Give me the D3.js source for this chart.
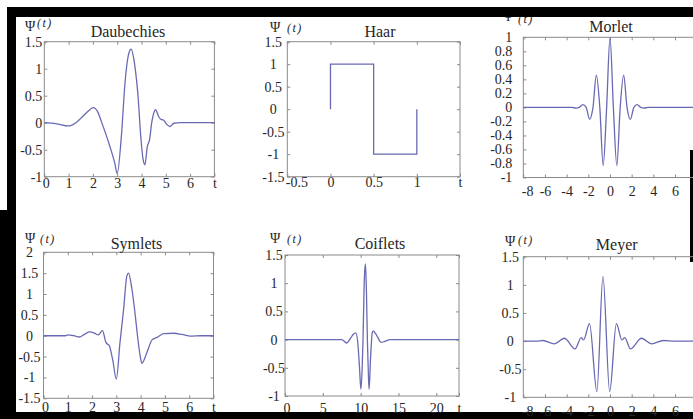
<!DOCTYPE html>
<html><head><meta charset="utf-8">
<script src="https://cdn.jsdelivr.net/npm/d3@7"></script>
<style>body{margin:0;background:#fff} svg{display:block}</style>
</head><body>
<svg id="c" width="693" height="419"></svg>
<script>
// ---------- data ----------
const titles = ["Daubechies","Haar","Morlet","Symlets","Coiflets","Meyer"];

const daubT   = [0,0.5,1.0,1.3,1.5,1.75,2.02,2.2,2.35,2.7,2.9,3.0,3.18,3.32,3.46,3.57,3.73,3.87,3.96,4.07,4.14,4.24,4.33,4.42,4.52,4.58,4.7,4.8,4.9,5.04,5.17,5.33,5.6,6.0,7.0];
const daubPsi = [0,-0.02,-0.06,0.0,0.08,0.19,0.28,0.2,0.02,-0.44,-0.75,-0.94,-0.2,0.73,1.25,1.36,1.04,0.42,-0.2,-0.69,-0.78,-0.44,-0.32,0.0,0.2,0.24,0.12,0.06,0.05,-0.03,-0.07,-0.01,0,0,0];

const haarT   = [0,0,0.5,0.5,1,1];
const haarPsi = [0,1,1,-1,-1,0];

const morlT   = [-8,-4,-3.5,-3.14,-2.83,-2.51,-2.2,-1.88,-1.57,-1.26,-0.94,-0.63,-0.31,0,0.31,0.63,0.94,1.26,1.57,1.88,2.2,2.51,2.83,3.14,3.5,4,8];
const morlPsi = [0,0,0,-0.01,0,0.04,0,-0.17,0,0.46,0,-0.83,0,1,0,-0.83,0,0.46,0,-0.17,0,0.04,0,-0.01,0,0,0];

const symT    = [0,0.9,1.0,1.25,1.49,1.7,1.9,2.1,2.25,2.43,2.57,2.71,2.85,3.0,3.15,3.3,3.43,3.5,3.64,3.78,3.87,3.98,4.05,4.26,4.47,4.68,4.95,5.37,5.7,6.06,6.47,7];
const symPsi  = [0,0,0.02,0.0,-0.03,0.04,0.09,0.06,0.02,0.12,-0.16,-0.24,-0.58,-1.04,-0.16,0.64,1.43,1.5,1.12,0.48,0,-0.48,-0.66,-0.4,-0.1,-0.04,0.05,0.06,0.03,-0.01,0,0];

const coifT   = [0,6.8,7.5,8.14,8.7,9.0,9.37,9.65,9.85,10.03,10.2,10.3,10.5,10.64,10.77,10.9,11.03,11.12,11.3,11.55,11.7,12.0,12.3,12.7,13.2,13.9,23];
const coifPsi = [0,0,0,-0.06,0.03,0.09,0.12,-0.1,-0.5,-0.88,-0.5,-0.06,1.12,1.34,0.82,-0.06,-0.65,-0.88,-0.35,0.13,0.15,0.1,0.03,-0.05,-0.03,0,0];

const meyT    = [-8,-6.8,-6.2,-5.14,-4.2,-3.22,-2.66,-2.44,-1.89,-1.21,-0.65,-0.03,0.59,1.1,1.36,1.89,2.9,3.84,4.92,6,8];
const meyPsi  = [0,0,0.01,-0.05,0.05,-0.14,0.06,0.02,0.31,-0.9,1.15,-0.9,0.31,0.02,0.06,-0.14,0.05,-0.05,0.01,0,0];

// tick values and labels
const daubXTicks = [0,1,2,3,4,5,6,7];        const daubXLabels = ["0","1","2","3","4","5","6","t"];
const daubYTicks = [-1,-0.5,0,0.5,1,1.5];    const daubYLabels = ["-1","-0.5","0","0.5","1","1.5"];
const haarXTicks = [-0.5,0,0.5,1,1.5];       const haarXLabels = ["-0.5","0","0.5","1","t"];
const haarYTicks = [-1.5,-1,-0.5,0,0.5,1,1.5]; const haarYLabels = ["-1.5","-1","-0.5","0","0.5","1","1.5"];
const morlXTicks = [-8,-6,-4,-2,0,2,4,6,8];  const morlXLabels = ["-8","-6","-4","-2","0","2","4","6","t"];
const morlYTicks = [-1,-0.8,-0.6,-0.4,-0.2,0,0.2,0.4,0.6,0.8,1];
const morlYLabels = ["-1","-0.8","-0.6","-0.4","-0.2","0","0.2","0.4","0.6","0.8","1"];
const symXTicks  = [0,1,2,3,4,5,6,7];        const symXLabels  = ["0","1","2","3","4","5","6","t"];
const symYTicks  = [-1.5,-1,-0.5,0,0.5,1,1.5,2]; const symYLabels = ["-1.5","-1","-0.5","0","0.5","1","1.5","2"];
const coifXTicks = [0,5,10,15,20,23];        const coifXLabels = ["0","5","10","15","20","t"];
const coifYTicks = [-1,-0.5,0,0.5,1,1.5];    const coifYLabels = ["-1","-0.5","0","0.5","1","1.5"];
const meyXTicks  = [-8,-6,-4,-2,0,2,4,6,8];  const meyXLabels  = ["-8","-6","-4","-2","0","2","4","6","t"];
const meyYTicks  = [-1,-0.5,0,0.5,1,1.5];    const meyYLabels  = ["-1","-0.5","0","0.5","1","1.5"];

// ---------- layout ----------
const W = 693, H = 419;
const svg = d3.select("#c");
const FONT = "'Liberation Serif','Times New Roman',serif";
const LINE = "#6a6ab4", FRAME = "#8a8a8a", TXT = "#262626";

const panels = [
  {t:daubT, v:daubPsi, xt:daubXTicks, xl:daubXLabels, yt:daubYTicks, yl:daubYLabels, step:false,
   box:[44.3,214.4,41.7,176.7], xpad:1.5, yanchor:"end", ypad:2, title:[128,37], psi:[25,30.5], pt:[37,27]},
  {t:haarT, v:haarPsi, xt:haarXTicks, xl:haarXLabels, yt:haarYTicks, yl:haarYLabels, step:true,
   box:[287.3,460,41.7,176.7], xpad:0, yanchor:"middle", ypad:14, title:[380,37], psi:[270,31.5], pt:[287,32]},
  {t:morlT, v:morlPsi, xt:morlXTicks, xl:morlXLabels, yt:morlYTicks, yl:morlYLabels, step:false,
   box:[523.3,696.7,37.3,177.5], xpad:9, yanchor:"end", ypad:11, title:[611,32], psi:[503,21], pt:[518,23]},
  {t:symT, v:symPsi, xt:symXTicks, xl:symXLabels, yt:symYTicks, yl:symYLabels, step:false,
   box:[43.5,213.5,252.3,398.3], xpad:4, yanchor:"middle", ypad:14, title:[136.5,248.5], psi:[25,243], pt:[40,243]},
  {t:coifT, v:coifPsi, xt:coifXTicks, xl:coifXLabels, yt:coifYTicks, yl:coifYLabels, step:false,
   box:[285,459,255,396], xpad:7, yanchor:"middle", ypad:11, title:[380,248.5], psi:[270,243], pt:[287,243]},
  {t:meyT, v:meyPsi, xt:meyXTicks, xl:meyXLabels, yt:meyYTicks, yl:meyYLabels, step:false,
   box:[523.3,696.7,256.7,397.3], xpad:9, yanchor:"middle", ypad:13, title:[616.7,250], psi:[505,246], pt:[518,244]}
];

// black photo border strips (drawn first, texts may sit over them)
const border = [[7,7,W-7,10],[7,7,9,203],[0,210,16,H-210],[0,412,W,H-412],[690,150,3,112]];
svg.selectAll("rect.border").data(border).enter().append("rect").attr("class","border")
  .attr("x", d => d[0]).attr("y", d => d[1]).attr("width", d => d[2]).attr("height", d => d[3])
  .attr("fill", "#000");

panels.forEach((p, i) => {
  const [x0, x1, y0, y1] = p.box;
  const x = d3.scaleLinear().domain(d3.extent(p.xt)).range([x0, x1]);
  const y = d3.scaleLinear().domain(d3.extent(p.yt)).range([y1, y0]);
  const g = svg.append("g");

  const styleAxis = sel => {
    sel.select(".domain").remove();
    sel.selectAll(".tick line").attr("stroke", FRAME);
    sel.selectAll("text").attr("fill", TXT).attr("font-family", FONT).attr("font-size", 14);
    sel.attr("font-family", null).attr("font-size", null);
  };
  const xa = g.append("g").attr("transform", `translate(0,${y1})`)
    .call(d3.axisBottom(x).tickValues(p.xt).tickSize(-3).tickPadding(p.xpad)
      .tickFormat((d, k) => p.xl[k]))
    .call(styleAxis);
  xa.selectAll(".tick text").filter((d, k) => k === 0).attr("text-anchor", "start").attr("dx", -2);
  g.append("g").attr("transform", `translate(0,${y0})`)
    .call(d3.axisTop(x).tickValues(p.xt).tickSize(-3).tickFormat(""))
    .call(styleAxis);
  const ya = g.append("g").attr("transform", `translate(${x0},0)`)
    .call(d3.axisLeft(y).tickValues(p.yt).tickSize(-3).tickPadding(p.ypad)
      .tickFormat((d, k) => p.yl[k]))
    .call(styleAxis);
  if (p.yanchor === "middle") ya.selectAll("text").attr("text-anchor", "middle");
  g.append("g").attr("transform", `translate(${x1},0)`)
    .call(d3.axisRight(y).tickValues(p.yt).tickSize(-3).tickFormat(""))
    .call(styleAxis);

  g.append("rect").attr("x", x0).attr("y", y0).attr("width", x1 - x0).attr("height", y1 - y0)
    .attr("fill", "none").attr("stroke", FRAME).attr("stroke-width", 1);

  const pts = p.t.map((t, k) => [t, p.v[k]]);
  const line = d3.line().x(d => x(d[0])).y(d => y(d[1]))
    .curve(p.step ? d3.curveLinear : d3.curveMonotoneX);
  g.append("path").datum(pts).attr("d", line)
    .attr("fill", "none").attr("stroke", LINE).attr("stroke-width", 1.3);

  g.append("text").attr("x", p.title[0]).attr("y", p.title[1]).attr("text-anchor", "middle")
    .attr("font-family", FONT).attr("font-size", 16).attr("fill", TXT).text(titles[i]);
  g.append("text").attr("x", p.psi[0]).attr("y", p.psi[1])
    .attr("font-family", FONT).attr("font-size", 14).attr("fill", TXT).text("\u03A8");
  g.append("text").attr("x", p.pt[0]).attr("y", p.pt[1])
    .attr("font-family", FONT).attr("font-size", 12).attr("font-style", "italic")
    .attr("letter-spacing", 1.5).attr("fill", TXT).text("(t)");
});

// the top strip hides the upper part of the Morlet label, as in the photo
svg.append("rect").attr("x", 7).attr("y", 7).attr("width", W - 7).attr("height", 10).attr("fill", "#000");
</script>
</body></html>
